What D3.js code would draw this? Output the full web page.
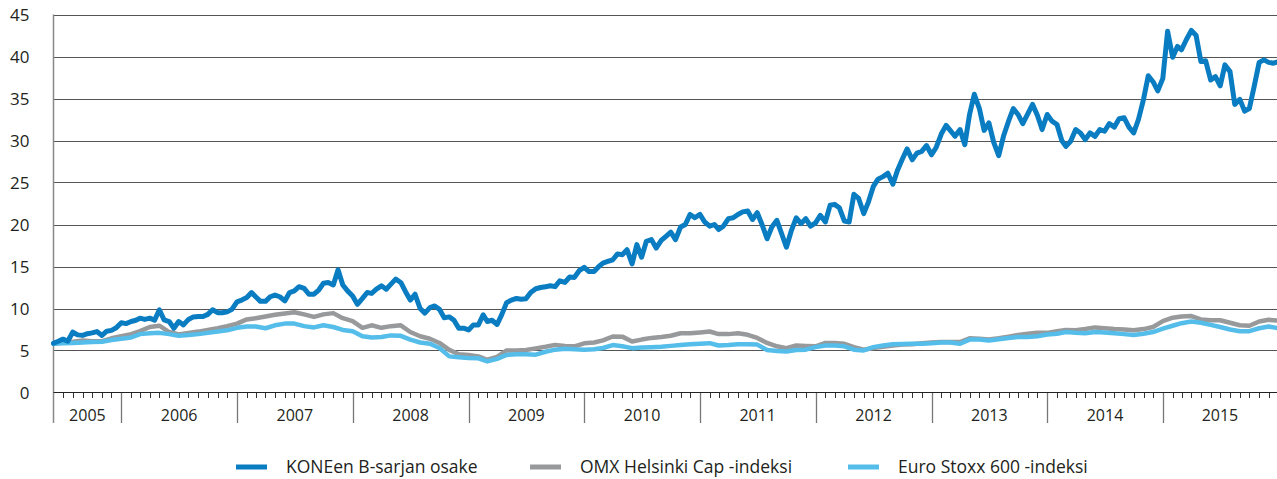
<!DOCTYPE html>
<html>
<head>
<meta charset="utf-8">
<script src="https://cdn.jsdelivr.net/npm/d3@7"></script>
<style>
  body { margin: 0; background: #fff; }
  svg { display: block; font-family: "Open Sans", sans-serif; }
</style>
</head>
<body>
<svg width="1277" height="479"></svg>
<script>
// KONE B share, semi-monthly (1st and 16th of each month from June 2005)
const koneValues = [
  5.87, 6.1, 6.35, 6.1, 7.2, 6.86, 6.8, 7.0, 7.1, 7.25, 6.8, 7.3, 7.4, 7.7,
  8.3, 8.2, 8.45, 8.6, 8.85, 8.7, 8.85, 8.6, 9.85, 8.65, 8.45, 7.65, 8.45, 8.05,
  8.7, 9.0, 9.05, 9.05, 9.3, 9.85, 9.5, 9.5, 9.6, 9.9, 10.8, 11.0, 11.3, 11.9,
  11.4, 10.85, 10.85, 11.4, 11.6, 11.4, 10.9, 11.9, 12.1, 12.6, 12.4, 11.7, 11.7, 12.2,
  13.0, 13.1, 12.8, 14.6, 12.8, 12.1, 11.5, 10.5, 11.2, 11.9, 11.8, 12.3, 12.7, 12.3,
  12.9, 13.5, 13.1, 12.0, 11.0, 11.7, 10.0, 9.45, 10.1, 10.3, 9.9, 8.9, 9.0, 8.6,
  7.65, 7.65, 7.45, 8.05, 8.05, 9.25, 8.45, 8.6, 8.1, 9.3, 10.7, 11.0, 11.2, 11.1,
  11.15, 11.9, 12.35, 12.5, 12.6, 12.7, 12.6, 13.3, 13.1, 13.75, 13.7, 14.5, 14.9, 14.4,
  14.4, 15.0, 15.4, 15.6, 15.8, 16.5, 16.4, 17.0, 15.3, 17.6, 16.1, 18.0, 18.2, 17.2,
  18.1, 18.6, 19.1, 18.2, 19.7, 20.0, 21.2, 20.8, 21.2, 20.3, 19.8, 20.0, 19.4, 19.8,
  20.7, 20.8, 21.2, 21.5, 21.6, 20.6, 21.4, 20.0, 18.3, 19.7, 20.5, 18.9, 17.3, 19.2,
  20.8, 20.1, 20.7, 19.8, 20.2, 21.1, 20.3, 22.3, 22.4, 22.0, 20.4, 20.3, 23.6, 23.1,
  21.3, 22.7, 24.5, 25.4, 25.7, 26.1, 24.8, 26.5, 27.8, 29.0, 27.7, 28.5, 28.7, 29.4,
  28.3, 29.2, 30.8, 31.8, 31.2, 30.5, 31.3, 29.5, 33.1, 35.5, 33.8, 31.2, 32.1, 29.8,
  28.2, 30.5, 32.3, 33.8, 33.1, 32.0, 33.2, 34.3, 33.0, 31.3, 33.1, 32.3, 31.9, 30.0,
  29.3, 29.9, 31.3, 30.9, 30.1, 30.9, 30.5, 31.3, 31.1, 32.0, 31.6, 32.6, 32.7, 31.6,
  30.9, 32.5, 34.9, 37.7, 37.0, 35.9, 37.4, 43.0, 39.9, 41.2, 40.8, 42.0, 43.1, 42.5,
  39.4, 39.5, 37.2, 37.6, 36.5, 39.0, 38.2, 34.3, 34.9, 33.5, 33.8, 36.4, 39.3, 39.6,
  39.3, 39.2, 39.4
];

// OMX Helsinki Cap, monthly (1st of each month from June 2005)
const omxValues = [
  5.8, 5.95, 6.05, 6.2, 6.1, 6.1, 6.45, 6.7, 6.95, 7.3, 7.8, 7.95, 7.2, 6.9,
  7.1, 7.25, 7.45, 7.65, 7.9, 8.2, 8.7, 8.85, 9.05, 9.25, 9.4, 9.55, 9.3, 9.0,
  9.3, 9.45, 8.85, 8.5, 7.7, 8.0, 7.7, 7.9, 8.0, 7.2, 6.7, 6.4, 5.9, 5.07,
  4.55, 4.47, 4.3, 3.9, 4.25, 5.0, 5.0, 5.07, 5.25, 5.45, 5.67, 5.55, 5.5, 5.85,
  5.95, 6.2, 6.67, 6.65, 6.07, 6.3, 6.5, 6.6, 6.75, 7.05, 7.06, 7.15, 7.26, 6.95,
  6.95, 7.05, 6.87, 6.5, 5.9, 5.5, 5.28, 5.6, 5.55, 5.5, 5.9, 5.9, 5.8, 5.4,
  5.1, 5.3, 5.45, 5.6, 5.7, 5.75, 5.85, 5.95, 6.0, 6.0, 6.0, 6.45, 6.4, 6.3,
  6.45, 6.65, 6.85, 7.0, 7.1, 7.1, 7.3, 7.45, 7.4, 7.55, 7.75, 7.65, 7.55, 7.5,
  7.4, 7.55, 7.8, 8.5, 8.9, 9.05, 9.1, 8.7, 8.6, 8.6, 8.3, 8.0, 7.95, 8.45,
  8.65, 8.55
];

// Euro Stoxx 600, monthly (1st of each month from June 2005)
const stoxxValues = [
  5.8, 5.85, 5.9, 5.95, 6.0, 6.05, 6.25, 6.4, 6.55, 6.95, 7.05, 7.1, 6.95, 6.75,
  6.85, 6.95, 7.1, 7.25, 7.4, 7.7, 7.85, 7.85, 7.65, 8.0, 8.2, 8.2, 7.9, 7.75,
  8.0, 7.8, 7.45, 7.3, 6.7, 6.55, 6.6, 6.8, 6.75, 6.3, 5.95, 5.8, 5.3, 4.3,
  4.2, 4.1, 4.07, 3.7, 4.0, 4.47, 4.55, 4.55, 4.5, 4.85, 5.1, 5.2, 5.15, 5.1,
  5.15, 5.3, 5.65, 5.5, 5.28, 5.35, 5.4, 5.45, 5.55, 5.65, 5.75, 5.8, 5.87, 5.6,
  5.65, 5.75, 5.75, 5.7, 5.05, 4.95, 4.88, 5.05, 5.1, 5.4, 5.6, 5.6, 5.5, 5.1,
  5.0, 5.4, 5.6, 5.75, 5.78, 5.8, 5.8, 5.85, 5.95, 5.95, 5.8, 6.3, 6.3, 6.2,
  6.35, 6.5, 6.6, 6.6, 6.7, 6.9, 7.0, 7.2, 7.1, 7.05, 7.2, 7.15, 7.05, 6.95,
  6.85, 7.0, 7.2, 7.6, 7.95, 8.25, 8.45, 8.3, 8.05, 7.8, 7.5, 7.3, 7.3, 7.65,
  7.85, 7.65
];

const years = [2005, 2006, 2007, 2008, 2009, 2010, 2011, 2012, 2013, 2014, 2015];
const yTicks = [0, 5, 10, 15, 20, 25, 30, 35, 40, 45];
const seriesNames = ["KONEen B-sarjan osake", "OMX Helsinki Cap -indeksi", "Euro Stoxx 600 -indeksi"];
const colors = ["#0a7cc1", "#98999b", "#55bde9"];

const start = new Date(2005, 5, 1);
const end = new Date(2016, 0, 1);

const koneData = koneValues.map((v, i) => ({
  date: new Date(2005, 5 + Math.floor(i / 2), i % 2 ? 16 : 1),
  value: v
}));
const omxData = omxValues.map((v, i) => ({ date: new Date(2005, 5 + i, 1), value: v }));
const stoxxData = stoxxValues.map((v, i) => ({ date: new Date(2005, 5 + i, 1), value: v }));

const svg = d3.select("svg");

const left = 53.5;
const right = 1278.5;

const x = d3.scaleTime().domain([start, end]).range([left, right]);
const y = d3.scaleLinear().domain([0, 45]).range([392.5, 14.5]);

// gridlines
svg.append("g")
  .selectAll("line")
  .data(yTicks.filter((d) => d > 0))
  .enter()
  .append("line")
  .attr("x1", left)
  .attr("x2", 1277)
  .attr("y1", (d) => Math.round(y(d)) + 0.5)
  .attr("y2", (d) => Math.round(y(d)) + 0.5)
  .attr("stroke", "#555")
  .attr("stroke-width", 1.2);

// y labels
svg.append("g")
  .selectAll("text")
  .data(yTicks)
  .enter()
  .append("text")
  .attr("x", 29.5)
  .attr("y", (d) => y(d) + 6)
  .attr("text-anchor", "end")
  .attr("font-size", 17)
  .attr("fill", "#231f20")
  .text((d) => d);

// monthly ticks on x axis
const months = d3.timeMonth.range(d3.timeMonth.offset(start, 1), end);
svg.append("g")
  .selectAll("line")
  .data(months)
  .enter()
  .append("line")
  .attr("x1", (d) => Math.round(x(d)) + 0.5)
  .attr("x2", (d) => Math.round(x(d)) + 0.5)
  .attr("y1", 392)
  .attr("y2", 398)
  .attr("stroke", "#333")
  .attr("stroke-width", 1);

// year separators
const yearStarts = years.slice(1).map((yr) => new Date(yr, 0, 1));
svg.append("g")
  .selectAll("line")
  .data(yearStarts)
  .enter()
  .append("line")
  .attr("x1", (d) => Math.round(x(d)) + 0.5)
  .attr("x2", (d) => Math.round(x(d)) + 0.5)
  .attr("y1", 392)
  .attr("y2", 423)
  .attr("stroke", "#777")
  .attr("stroke-width", 1.3);

// year labels
svg.append("g")
  .selectAll("text")
  .data(years)
  .enter()
  .append("text")
  .attr("x", (d) => {
    const a = Math.max(x(new Date(d, 0, 1)), left);
    const b = Math.min(x(new Date(d + 1, 0, 1)), 1277);
    return (a + b) / 2;
  })
  .attr("y", 420.7)
  .attr("text-anchor", "middle")
  .attr("font-size", 16)
  .attr("fill", "#231f20")
  .text((d) => d);

// left axis
svg.append("line")
  .attr("x1", left)
  .attr("x2", left)
  .attr("y1", y(45))
  .attr("y2", 423)
  .attr("stroke", "#888")
  .attr("stroke-width", 1.5);

// bottom axis
svg.append("line")
  .attr("x1", left)
  .attr("x2", 1277)
  .attr("y1", 392.5)
  .attr("y2", 392.5)
  .attr("stroke", "#222")
  .attr("stroke-width", 1.2);

// lines
const line = d3.line()
  .x((d) => x(d.date))
  .y((d) => y(d.value))
  .curve(d3.curveLinear);

const plotted = [omxData, stoxxData, koneData];
const plottedColors = [colors[1], colors[2], colors[0]];
svg.append("g")
  .selectAll("path")
  .data(plotted)
  .enter()
  .append("path")
  .attr("d", line)
  .attr("fill", "none")
  .attr("stroke", (d, i) => plottedColors[i])
  .attr("stroke-width", (d, i) => (i === 2 ? 5 : 4.5))
  .attr("stroke-linejoin", "round")
  .attr("stroke-linecap", "round");

// Legends
const legendX = [236, 530, 848];
const legend = svg
  .append("g")
  .selectAll("g")
  .data(seriesNames)
  .enter()
  .append("g")
  .attr("transform", (d, i) => `translate(${legendX[i]}, 467)`);

legend
  .append("rect")
  .attr("width", 31)
  .attr("height", 5)
  .attr("y", -2.5)
  .attr("fill", (d, i) => colors[i]);

legend
  .append("text")
  .text((d) => d)
  .attr("fill", "#231f20")
  .attr("font-size", 17.5)
  .attr("x", 50)
  .attr("y", 6);
</script>
</body>
</html>
